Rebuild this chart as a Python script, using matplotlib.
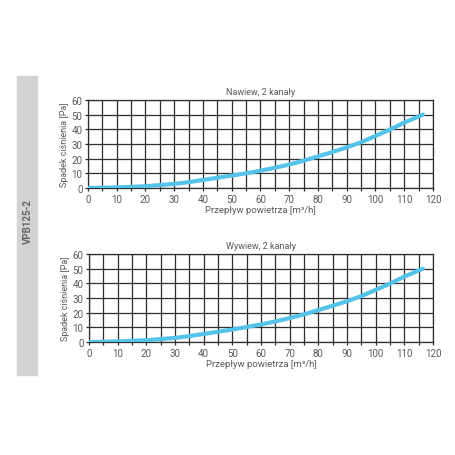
import numpy as np
import matplotlib
matplotlib.use('Agg')
import matplotlib.pyplot as plt
from matplotlib.patches import Rectangle

plt.rcParams['font.family'] = ['Roboto', 'DejaVu Sans']

# flow [m3/h] vs pressure drop [Pa]
flow = [0, 5, 10, 15, 20, 25, 30, 35, 40, 45, 50, 55, 60, 65, 70, 75, 80, 85, 90, 95, 100, 105, 110, 116.5]
nawiew = [0, 0.2, 0.4, 0.8, 1.2, 2.0, 2.8, 4.0, 5.5, 7.0, 8.5, 10.0, 11.8, 13.8, 16.0, 18.6, 21.6, 24.5, 27.7, 31.2, 35.5, 39.8, 44.6, 50]
wywiew = [0, 0.2, 0.4, 0.8, 1.2, 2.0, 2.8, 4.0, 5.5, 7.0, 8.5, 10.2, 12.0, 14.0, 16.3, 18.8, 21.8, 24.7, 27.8, 31.3, 35.5, 39.8, 44.6, 50]
titles = ['Nawiew, 2 kanały', 'Wywiew, 2 kanały']
series = [nawiew, wywiew]

line_col = '#55c3e9'
txt_col = '#5a5a5a'
grid_col = '#2e2e2e'

fig = plt.figure(figsize=(4.56, 4.56), dpi=100)

# gray side band with model name
fig.patches.append(Rectangle((17/456, 1-376/456), 20/456, 299/456,
                             transform=fig.transFigure, color='#d3d3d3', zorder=0))
fig.text(28/456, 1-222/456, 'VPB125-2', rotation=90, ha='center', va='center',
         fontsize=7, fontweight='bold', color='#666666')

boxes = [(88, 101, 433, 189), (89, 255, 433, 343)]
for (l, t, r, b), title, vals in zip(boxes, titles, series):
    ax = fig.add_axes([l/456, 1-b/456, (r-l)/456, (b-t)/456])
    ax.plot(flow, vals, color=line_col, lw=3, solid_capstyle='round', zorder=3)
    ax.set_xlim(0, 120)
    ax.set_ylim(0, 60)
    ax.set_xticks(np.arange(0, 121, 5), minor=False)
    ax.set_xticklabels([str(v) if v % 10 == 0 else '' for v in range(0, 121, 5)])
    ax.set_yticks(np.arange(0, 61, 10))
    ax.grid(True, color=grid_col, lw=0.9)
    ax.tick_params(length=2, width=0.9, color=grid_col, labelsize=7,
                   labelcolor=txt_col, pad=2)
    for s in ax.spines.values():
        s.set_color(grid_col)
        s.set_linewidth(0.9)
    ax.set_title(title, fontsize=6.5, color=txt_col, pad=4)
    ax.set_ylabel('Spadek ciśnienia [Pa]', fontsize=6.5, color=txt_col, labelpad=2)
    ax.set_xlabel('Przepływ powietrza [m³/h]', fontsize=6.8, color=txt_col, labelpad=1)

fig.savefig('out.png', dpi=100)
